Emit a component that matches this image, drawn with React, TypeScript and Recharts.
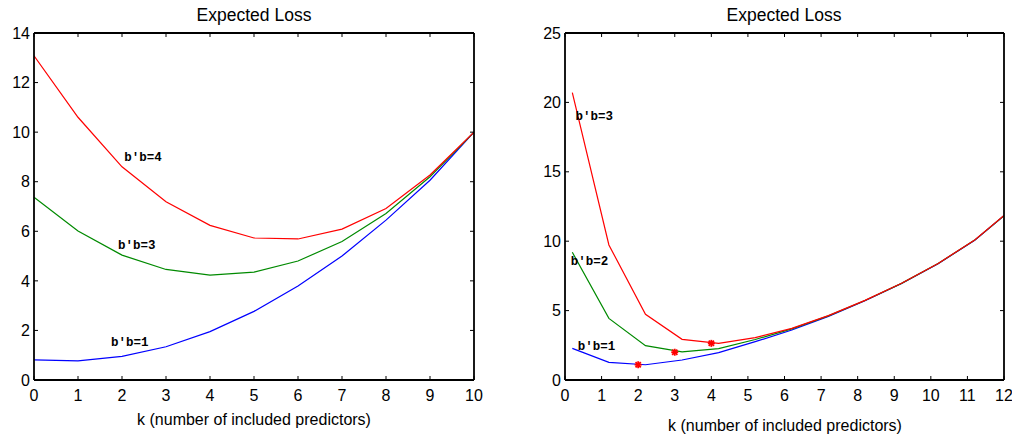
import { LineChart, Line, XAxis, YAxis, ReferenceDot } from 'recharts';

const RED = '#ff0000';
const GREEN = '#008a00';
const BLUE = '#0000ff';
const FONT = '"Liberation Sans", Arial, Helvetica, sans-serif';
const MONO = '"Liberation Mono", "Courier New", monospace';

// left panel: k = 0..10
const leftK = [0, 1, 2, 3, 4, 5, 6, 7, 8, 9, 10];
const leftBB4 = [13.08, 10.6, 8.6, 7.19, 6.24, 5.73, 5.69, 6.09, 6.92, 8.27, 10.0];
const leftBB3 = [7.37, 6.01, 5.04, 4.46, 4.23, 4.35, 4.8, 5.59, 6.72, 8.2, 10.0];
const leftBB1 = [0.81, 0.77, 0.95, 1.34, 1.95, 2.77, 3.79, 5.0, 6.45, 8.06, 10.0];
const leftXTicks = [0, 1, 2, 3, 4, 5, 6, 7, 8, 9, 10];
const leftYTicks = [0, 2, 4, 6, 8, 10, 12, 14];

// right panel: k offset by 0.2
const rightK = [0.2, 1.2, 2.2, 3.2, 4.2, 5.2, 6.2, 7.2, 8.2, 9.2, 10.2, 11.2, 12.0];
const rightBB3 = [20.7, 9.73, 4.73, 2.93, 2.64, 3.05, 3.72, 4.64, 5.74, 6.97, 8.4, 10.09, 11.85];
const rightBB2 = [9.2, 4.44, 2.47, 2.02, 2.26, 2.92, 3.68, 4.62, 5.73, 6.96, 8.39, 10.08, 11.84];
const rightBB1 = [2.28, 1.27, 1.1, 1.44, 1.97, 2.76, 3.6, 4.58, 5.71, 6.95, 8.38, 10.07, 11.83];
const rightXTicks = [0, 1, 2, 3, 4, 5, 6, 7, 8, 9, 10, 11, 12];
const rightYTicks = [0, 5, 10, 15, 20, 25];

// minima marked with stars
const starK = [2, 3, 4];
const starLoss = [1.1, 2.0, 2.64];

const toPts = (xs: number[], ys: number[]) => xs.map((x, i) => ({ x, y: ys[i] }));

const Star = ({ cx, cy }: any) => {
    if (cx == null || cy == null) return null;
    const r = 3.5;
    const d = r * 0.75;
    return (
        <g stroke={RED} strokeWidth={1.8}>
            <line x1={cx - r} y1={cy} x2={cx + r} y2={cy} />
            <line x1={cx} y1={cy - r} x2={cx} y2={cy + r} />
            <line x1={cx - d} y1={cy - d} x2={cx + d} y2={cy + d} />
            <line x1={cx - d} y1={cy + d} x2={cx + d} y2={cy - d} />
        </g>
    );
};

const CurveLabel = ({ text }: any) => (props: any) => (
    <text
        x={props.cx}
        y={props.cy}
        dominantBaseline="middle"
        fontFamily={MONO}
        fontWeight="bold"
        fontSize={12.5}
        fill="#000"
    >
        {text}
    </text>
);

function Panel({ xTicks, yTicks, xMax, yMax, series, labels, stars, width, marginLeft, marginRight }: any) {
    const axisStyle = { stroke: '#000', strokeWidth: 1.8 };
    const tickText = { fill: '#000', fontSize: 16, fontFamily: FONT };
    return (
        <LineChart
            width={width}
            height={439}
            margin={{ top: 32, right: marginRight, bottom: 29, left: marginLeft }}
        >
            <XAxis
                dataKey="x"
                type="number"
                domain={[0, xMax]}
                ticks={xTicks}
                interval={0}
                height={30}
                axisLine={axisStyle}
                tickLine={{ stroke: '#000' }}
                tickSize={-4}
                tickMargin={14}
                tick={tickText}
                allowDataOverflow
            />
            <XAxis
                xAxisId="top"
                orientation="top"
                dataKey="x"
                type="number"
                domain={[0, xMax]}
                ticks={xTicks}
                interval={0}
                height={1}
                axisLine={axisStyle}
                tickLine={{ stroke: '#000' }}
                tickSize={-4}
                tickMargin={0}
                tick={{ fontSize: 1, fill: 'none' }}
                tickFormatter={() => ''}
                allowDataOverflow
            />
            <YAxis
                type="number"
                domain={[0, yMax]}
                ticks={yTicks}
                interval={0}
                width={30}
                axisLine={axisStyle}
                tickLine={{ stroke: '#000' }}
                tickSize={-4}
                tickMargin={8}
                tick={tickText}
                allowDataOverflow
            />
            <YAxis
                yAxisId="right"
                orientation="right"
                type="number"
                domain={[0, yMax]}
                ticks={yTicks}
                interval={0}
                width={1}
                axisLine={axisStyle}
                tickLine={{ stroke: '#000' }}
                tickSize={-4}
                tickMargin={0}
                tick={{ fontSize: 1, fill: 'none' }}
                tickFormatter={() => ''}
                allowDataOverflow
            />
            {series.map((s: any, i: number) => (
                <Line
                    key={i}
                    data={s.data}
                    dataKey="y"
                    type="linear"
                    stroke={s.color}
                    strokeWidth={1.2}
                    dot={false}
                    activeDot={false}
                    isAnimationActive={false}
                />
            ))}
            {stars && (
                <Line
                    data={stars}
                    dataKey="y"
                    stroke="none"
                    dot={<Star />}
                    activeDot={false}
                    isAnimationActive={false}
                />
            )}
            {labels.map((l: any, i: number) => (
                <ReferenceDot key={i} x={l.x} y={l.y} r={0} shape={CurveLabel({ text: l.text })} />
            ))}
        </LineChart>
    );
}

export default function App() {
    const titleStyle: any = {
        position: 'absolute', top: 5, fontFamily: FONT, fontSize: 17.5, color: '#000',
        transform: 'translateX(-50%)', whiteSpace: 'nowrap',
    };
    const xlabelStyle: any = {
        position: 'absolute', fontFamily: FONT, fontSize: 16, color: '#000',
        transform: 'translateX(-50%)', whiteSpace: 'nowrap',
    };
    return (
        <div style={{ position: 'absolute', left: 0, top: 0, width: 1012, height: 439, background: '#fff', overflow: 'hidden' }}>
            <div style={{ position: 'absolute', left: 0, top: 0 }}>
                <Panel
                    width={500}
                    marginLeft={4}
                    marginRight={25}
                    xMax={10}
                    yMax={14}
                    xTicks={leftXTicks}
                    yTicks={leftYTicks}
                    series={[
                        { data: toPts(leftK, leftBB1), color: BLUE },
                        { data: toPts(leftK, leftBB3), color: GREEN },
                        { data: toPts(leftK, leftBB4), color: RED },
                    ]}
                    labels={[
                        { x: 2.05, y: 8.95, text: "b'b=4" },
                        { x: 1.91, y: 5.42, text: "b'b=3" },
                        { x: 1.75, y: 1.49, text: "b'b=1" },
                    ]}
                />
            </div>
            <div style={{ position: 'absolute', left: 510, top: 0 }}>
                <Panel
                    width={502}
                    marginLeft={25}
                    marginRight={7}
                    xMax={12}
                    yMax={25}
                    xTicks={rightXTicks}
                    yTicks={rightYTicks}
                    series={[
                        { data: toPts(rightK, rightBB1), color: BLUE },
                        { data: toPts(rightK, rightBB2), color: GREEN },
                        { data: toPts(rightK, rightBB3), color: RED },
                    ]}
                    stars={toPts(starK, starLoss)}
                    labels={[
                        { x: 0.29, y: 18.97, text: "b'b=3" },
                        { x: 0.16, y: 8.52, text: "b'b=2" },
                        { x: 0.35, y: 2.4, text: "b'b=1" },
                    ]}
                />
            </div>
            <div style={{ ...titleStyle, left: 254 }}>Expected Loss</div>
            <div style={{ ...titleStyle, left: 784 }}>Expected Loss</div>
            <div style={{ ...xlabelStyle, left: 254, top: 411 }}>k (number of included predictors)</div>
            <div style={{ ...xlabelStyle, left: 785, top: 417 }}>k (number of included predictors)</div>
        </div>
    );
}
